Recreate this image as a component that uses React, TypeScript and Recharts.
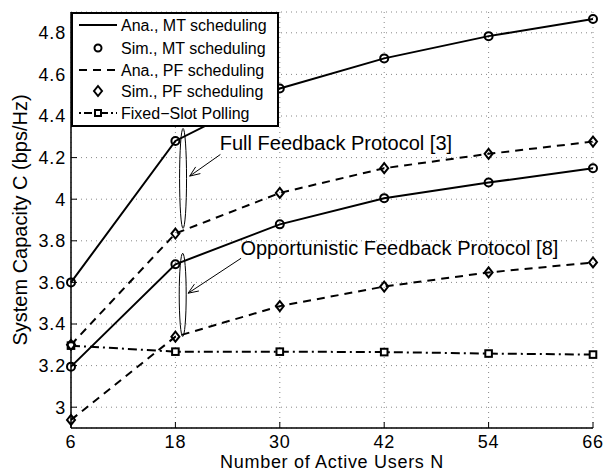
import {
  LineChart,
  Line,
  XAxis,
  YAxis,
  CartesianGrid,
  Legend,
  ReferenceArea,
  ReferenceLine,
  ReferenceDot,
} from 'recharts';

const users = [6, 18, 30, 42, 54, 66];
const anaMtFull = [3.6, 4.28, 4.532, 4.677, 4.784, 4.866];
const simMtFull = [3.6, 4.28, 4.532, 4.677, 4.784, 4.866];
const anaPfFull = [3.3, 3.835, 4.03, 4.149, 4.218, 4.277];
const simPfFull = [3.3, 3.835, 4.03, 4.149, 4.218, 4.277];
const anaMtOpp = [3.195, 3.687, 3.879, 4.005, 4.08, 4.149];
const simMtOpp = [3.195, 3.687, 3.879, 4.005, 4.08, 4.149];
const anaPfOpp = [2.939, 3.339, 3.486, 3.58, 3.648, 3.696];
const simPfOpp = [2.939, 3.339, 3.486, 3.58, 3.648, 3.696];
const fixedSlot = [3.296, 3.267, 3.267, 3.265, 3.258, 3.253];

const xTicks = [6, 18, 30, 42, 54, 66];
const yTicks = [3, 3.2, 3.4, 3.6, 3.8, 4, 4.2, 4.4, 4.6, 4.8];

const legendLabels = [
  'Ana., MT scheduling',
  'Sim., MT scheduling',
  'Ana., PF scheduling',
  'Sim., PF scheduling',
  'Fixed\u2212Slot Polling',
];

const data = users.map((n, i) => ({
  n,
  anaMtFull: anaMtFull[i],
  simMtFull: simMtFull[i],
  anaPfFull: anaPfFull[i],
  simPfFull: simPfFull[i],
  anaMtOpp: anaMtOpp[i],
  simMtOpp: simMtOpp[i],
  anaPfOpp: anaPfOpp[i],
  simPfOpp: simPfOpp[i],
  fixed: fixedSlot[i],
}));

const FONT = '"Liberation Sans", Arial, Helvetica, sans-serif';
const DASH = '8 6';
const DASHDOT = '9 4 2 4';

const Circle = ({ cx, cy }: any) =>
  cx == null ? null : <circle cx={cx} cy={cy} r={4} fill="none" stroke="#000" strokeWidth={2} />;

const Diamond = ({ cx, cy }: any) =>
  cx == null ? null : (
    <polygon
      points={`${cx},${cy - 5} ${cx + 4},${cy} ${cx},${cy + 5} ${cx - 4},${cy}`}
      fill="none"
      stroke="#000"
      strokeWidth={2}
    />
  );

const Square = ({ cx, cy }: any) =>
  cx == null ? null : (
    <rect x={cx - 3.3} y={cy - 3.3} width={6.6} height={6.6} fill="#fff" stroke="#000" strokeWidth={2} />
  );

const Ellipse = (p: any) => (
  <ellipse
    cx={p.x + p.width / 2}
    cy={p.y + p.height / 2}
    rx={p.width / 2}
    ry={p.height / 2}
    fill="none"
    stroke="#000"
    strokeWidth={1}
  />
);

const Arrow = (p: any) => {
  const { x1, y1, x2, y2 } = p;
  const a = Math.atan2(y2 - y1, x2 - x1);
  const len = 11;
  const w = 0.38;
  const pA = `${x2 - len * Math.cos(a - w)},${y2 - len * Math.sin(a - w)}`;
  const pB = `${x2 - len * Math.cos(a + w)},${y2 - len * Math.sin(a + w)}`;
  return (
    <g>
      <line x1={x1} y1={y1} x2={x2} y2={y2} stroke="#000" strokeWidth={1} />
      <polyline points={`${pA} ${x2},${y2} ${pB}`} fill="none" stroke="#000" strokeWidth={1} />
    </g>
  );
};

const Note = (text: string) => (p: any) =>
  (
    <text x={p.cx} y={p.cy} dy="0.36em" fontSize={20} fontFamily={FONT} fill="#000">
      {text}
    </text>
  );

const renderLegend = () => {
  const rowY = [13, 36, 58, 79, 101];
  return (
    <svg width={208} height={115} style={{ display: 'block' }}>
      <rect x={1} y={1} width={206} height={113} fill="#fff" stroke="#000" strokeWidth={2} />
      {legendLabels.map((label, i) => {
        const y = rowY[i];
        return (
          <g key={label}>
            {i === 0 && <line x1={8} x2={46} y1={y} y2={y} stroke="#000" strokeWidth={2} />}
            {i === 1 && <circle cx={27} cy={y} r={3.5} fill="none" stroke="#000" strokeWidth={2} />}
            {i === 2 && (
              <line x1={8} x2={46} y1={y} y2={y} stroke="#000" strokeWidth={2} strokeDasharray={DASH} />
            )}
            {i === 3 && (
              <polygon
                points={`27,${y - 5} 31,${y} 27,${y + 5} 23,${y}`}
                fill="none"
                stroke="#000"
                strokeWidth={2}
              />
            )}
            {i === 4 && (
              <g>
                <line x1={8} x2={46} y1={y} y2={y} stroke="#000" strokeWidth={2} strokeDasharray="2 3 8 3" />
                <rect x={24} y={y - 3} width={6} height={6} fill="#fff" stroke="#000" strokeWidth={2} />
              </g>
            )}
            <text x={50} y={y} dy="0.36em" fontSize={16} fontFamily={FONT} fill="#000">
              {label}
            </text>
          </g>
        );
      })}
    </svg>
  );
};

const fmt = (v: number) => String(Math.round(v * 10) / 10);

export default function App() {
  return (
    <div style={{ position: 'absolute', left: 0, top: 0, background: '#fff' }}>
      <LineChart
        width={616}
        height={473}
        data={data}
        margin={{ top: 12, right: 23, bottom: 0, left: 0 }}
        style={{ fontFamily: FONT }}
      >
        <CartesianGrid stroke="#888" strokeDasharray="1 4" strokeWidth={1} />
        <XAxis
          dataKey="n"
          type="number"
          domain={[6, 66]}
          ticks={xTicks}
          height={45}
          axisLine={{ stroke: '#000', strokeWidth: 1.5 }}
          tickLine={{ stroke: '#000' }}
          tickSize={-6}
          tickMargin={13}
          tick={{ fill: '#000', fontSize: 18, letterSpacing: 0.8 }}
          label={{
            value: 'Number of Active Users N',
            position: 'insideBottom',
            offset: 5,
            fill: '#000',
            fontSize: 18,
            letterSpacing: 0.7,
          }}
        />
        <XAxis
          xAxisId="top"
          dataKey="n"
          type="number"
          orientation="top"
          domain={[6, 66]}
          ticks={xTicks}
          height={0}
          axisLine={{ stroke: '#000', strokeWidth: 1.5 }}
          tickLine={{ stroke: '#000' }}
          tickSize={-6}
          tickFormatter={() => ''}
        />
        <YAxis
          type="number"
          domain={[2.9, 4.9]}
          ticks={yTicks}
          width={71}
          axisLine={{ stroke: '#000', strokeWidth: 1.5 }}
          tickLine={{ stroke: '#000' }}
          tickSize={-6}
          tickMargin={11}
          tickFormatter={fmt}
          tick={{ fill: '#000', fontSize: 18, letterSpacing: 0.8 }}
          label={{
            value: 'System Capacity C (bps/Hz)',
            angle: -90,
            position: 'insideLeft',
            offset: 20,
            style: { textAnchor: 'middle' },
            fill: '#000',
            fontSize: 20,
          }}
        />
        <YAxis
          yAxisId="right"
          type="number"
          orientation="right"
          domain={[2.9, 4.9]}
          ticks={yTicks}
          width={0}
          axisLine={{ stroke: '#000', strokeWidth: 1.5 }}
          tickLine={{ stroke: '#000' }}
          tickSize={-6}
          tickFormatter={() => ''}
        />

        <Line dataKey="anaMtFull" stroke="#000" strokeWidth={2} dot={false} isAnimationActive={false} />
        <Line dataKey="anaMtOpp" stroke="#000" strokeWidth={2} dot={false} isAnimationActive={false} />
        <Line
          dataKey="anaPfFull"
          stroke="#000"
          strokeWidth={2}
          strokeDasharray={DASH}
          dot={false}
          isAnimationActive={false}
        />
        <Line
          dataKey="anaPfOpp"
          stroke="#000"
          strokeWidth={2}
          strokeDasharray={DASH}
          dot={false}
          isAnimationActive={false}
        />
        <Line
          dataKey="fixed"
          stroke="#000"
          strokeWidth={2}
          strokeDasharray={DASHDOT}
          dot={<Square />}
          isAnimationActive={false}
        />
        <Line dataKey="simMtFull" stroke="none" dot={<Circle />} isAnimationActive={false} />
        <Line dataKey="simMtOpp" stroke="none" dot={<Circle />} isAnimationActive={false} />
        <Line dataKey="simPfFull" stroke="none" dot={<Diamond />} isAnimationActive={false} />
        <Line dataKey="simPfOpp" stroke="none" dot={<Diamond />} isAnimationActive={false} />

        <ReferenceArea x1={18.48} x2={19.28} y1={3.86} y2={4.34} shape={Ellipse} />
        <ReferenceArea x1={18.44} x2={19.24} y1={3.34} y2={3.74} shape={Ellipse} />
        <ReferenceLine
          segment={[
            { x: 23.17, y: 4.215 },
            { x: 19.64, y: 4.111 },
          ]}
          shape={Arrow}
        />
        <ReferenceLine
          segment={[
            { x: 25.55, y: 3.716 },
            { x: 19.46, y: 3.548 },
          ]}
          shape={Arrow}
        />
        <ReferenceDot x={23.1} y={4.269} r={0} shape={Note('Full Feedback Protocol [3]')} />
        <ReferenceDot x={25.47} y={3.767} r={0} shape={Note('Opportunistic Feedback Protocol [8]')} />

        <Legend
          layout="horizontal"
          verticalAlign="middle"
          align="center"
          content={renderLegend}
          wrapperStyle={{ top: 12, left: 71, width: 208, height: 115 }}
        />
      </LineChart>
    </div>
  );
}
